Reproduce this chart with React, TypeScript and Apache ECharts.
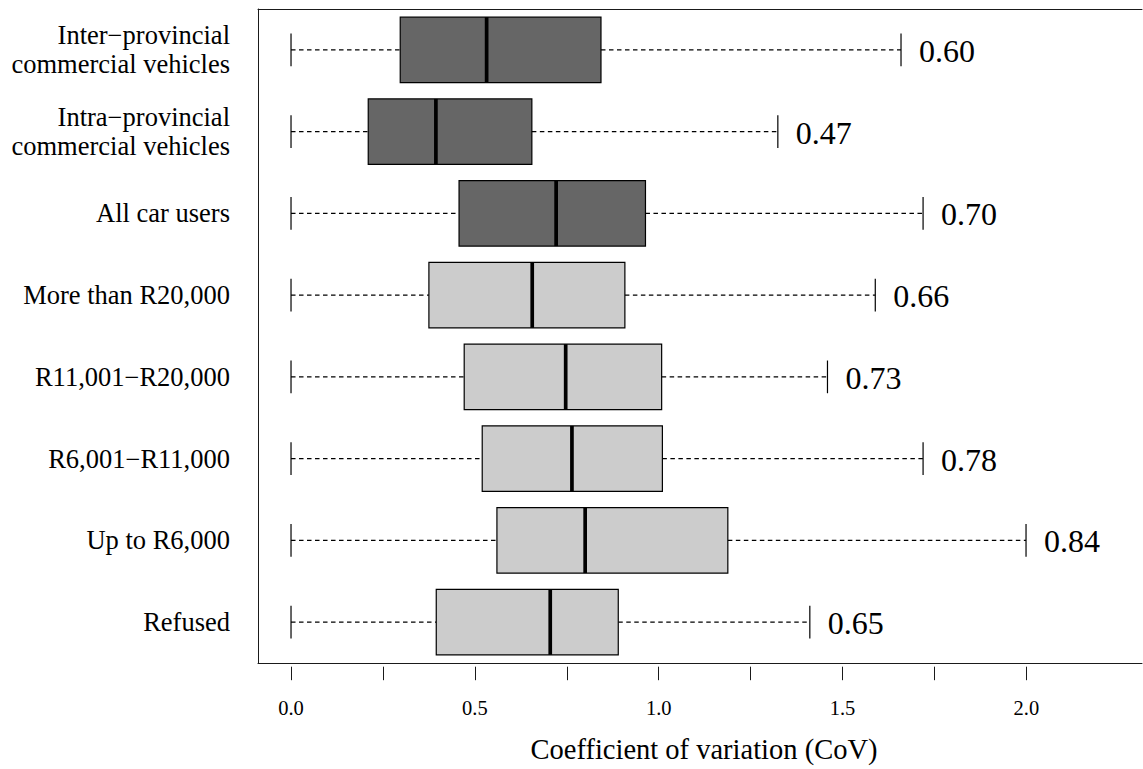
import React, { useEffect, useRef } from "react";
import * as echarts from "echarts";

const categories = [
  "Inter\u2212provincial\ncommercial vehicles",
  "Intra\u2212provincial\ncommercial vehicles",
  "All car users",
  "More than R20,000",
  "R11,001\u2212R20,000",
  "R6,001\u2212R11,000",
  "Up to R6,000",
  "Refused",
];
const whiskerLow = [0, 0, 0, 0, 0, 0, 0, 0];
const lowerQuartile = [0.297, 0.21, 0.457, 0.375, 0.471, 0.52, 0.56, 0.395];
const median = [0.532, 0.394, 0.721, 0.656, 0.747, 0.764, 0.8, 0.705];
const upperQuartile = [0.843, 0.655, 0.964, 0.908, 1.008, 1.01, 1.188, 0.89];
const whiskerHigh = [1.659, 1.324, 1.719, 1.589, 1.459, 1.719, 1.999, 1.411];
const cvLabels = ["0.60", "0.47", "0.70", "0.66", "0.73", "0.78", "0.84", "0.65"];
const groupOf = ["vehicle", "vehicle", "vehicle", "income", "income", "income", "income", "income"];
const tickMin = 0;
const tickMax = 2;
const tickStep = 0.25;

const FONT = "'Liberation Serif', 'Times New Roman', serif";
const fillFor: Record<string, string> = { vehicle: "#666666", income: "#cccccc" };

export default function App() {
  const ref = useRef<HTMLDivElement>(null);
  useEffect(() => {
    if (!ref.current) return;
    const chart = echarts.init(ref.current, undefined, { renderer: "svg" });

    const xMin = -0.0898;
    const pxPerUnit = 367.69;
    const gLeft = 258;
    const gTop = 9;
    const gWidth = 884;
    const gHeight = 657.7;
    const xMax = xMin + gWidth / pxPerUnit;
    const tLeft = gLeft + (tickMin - xMin) * pxPerUnit;
    const tWidth = (tickMax - tickMin) * pxPerUnit;
    const frame = { show: true, onZero: false, lineStyle: { color: "#1a1a1a", width: 1 } };

    const data = categories.map((_, i) => [
      i,
      whiskerLow[i],
      lowerQuartile[i],
      median[i],
      upperQuartile[i],
      whiskerHigh[i],
    ]);

    const renderItem = (params: any, api: any) => {
      const idx = params.dataIndex;
      const cat = api.value(0);
      const pLo = api.coord([api.value(1), cat]);
      const pQ1 = api.coord([api.value(2), cat]);
      const pMed = api.coord([api.value(3), cat]);
      const pQ3 = api.coord([api.value(4), cat]);
      const pHi = api.coord([api.value(5), cat]);
      const band = api.size([0, 1])[1];
      const boxH = band * 0.8;
      const capH = band * 0.4;
      const y = pMed[1];
      const dashStyle = { stroke: "#000", lineWidth: 1.1, lineDash: [4.5, 3.5] };
      const solid = { stroke: "#000", lineWidth: 1.2 };
      return {
        type: "group",
        children: [
          { type: "line", shape: { x1: pLo[0], y1: y, x2: pQ1[0], y2: y }, style: dashStyle },
          { type: "line", shape: { x1: pQ3[0], y1: y, x2: pHi[0], y2: y }, style: dashStyle },
          { type: "line", shape: { x1: pLo[0], y1: y - capH / 2, x2: pLo[0], y2: y + capH / 2 }, style: solid },
          { type: "line", shape: { x1: pHi[0], y1: y - capH / 2, x2: pHi[0], y2: y + capH / 2 }, style: solid },
          {
            type: "rect",
            shape: { x: pQ1[0], y: y - boxH / 2, width: pQ3[0] - pQ1[0], height: boxH },
            style: { fill: fillFor[groupOf[idx]], stroke: "#000", lineWidth: 1.2 },
          },
          {
            type: "line",
            shape: { x1: pMed[0], y1: y - boxH / 2, x2: pMed[0], y2: y + boxH / 2 },
            style: { stroke: "#000", lineWidth: 3.7 },
          },
          {
            type: "text",
            x: pHi[0] + 18,
            y: y + 1,
            style: {
              text: cvLabels[idx],
              fill: "#000",
              fontSize: 32,
              fontFamily: FONT,
              align: "left",
              verticalAlign: "middle",
              textAlign: "left",
              textVerticalAlign: "middle",
            },
          },
        ],
      };
    };

    chart.setOption({
      animation: false,
      backgroundColor: "#ffffff",
      grid: [
        { left: gLeft, top: gTop, width: gWidth, height: gHeight, show: false },
        { left: tLeft, top: gTop, width: tWidth, height: gHeight, show: false },
      ],
      xAxis: [
        {
          gridIndex: 0,
          type: "value",
          position: "bottom",
          min: xMin,
          max: xMax,
          axisLine: frame,
          axisTick: { show: false },
          axisLabel: { show: false },
          splitLine: { show: false },
          name: "Coefficient of variation (CoV)",
          nameLocation: "middle",
          nameGap: 72,
          nameTextStyle: { fontFamily: FONT, fontSize: 28.5, color: "#000", padding: [0, 0, 0, 8] },
        },
        {
          gridIndex: 0,
          type: "value",
          position: "top",
          min: xMin,
          max: xMax,
          axisLine: frame,
          axisTick: { show: false },
          axisLabel: { show: false },
          splitLine: { show: false },
        },
        {
          gridIndex: 1,
          type: "value",
          min: tickMin,
          max: tickMax,
          interval: tickStep,
          axisLine: { show: false },
          axisTick: { show: true, length: 13.5, lineStyle: { color: "#1a1a1a", width: 1 } },
          axisLabel: {
            show: true,
            margin: 31,
            fontFamily: FONT,
            fontSize: 20.5,
            color: "#000",
            showMinLabel: true,
            showMaxLabel: true,
            formatter: (v: number) =>
              Math.abs(v * 2 - Math.round(v * 2)) < 1e-9 ? v.toFixed(1) : "",
          },
          splitLine: { show: false },
        },
      ],
      yAxis: [
        {
          gridIndex: 0,
          type: "category",
          position: "left",
          data: categories,
          inverse: true,
          boundaryGap: true,
          axisLine: frame,
          axisTick: { show: false },
          axisLabel: {
            margin: 28,
            fontFamily: FONT,
            fontSize: 26.5,
            lineHeight: 29,
            color: "#000",
            align: "right",
            interval: 0,
          },
          splitLine: { show: false },
        },
        {
          gridIndex: 1,
          type: "value",
          show: false,
        },
      ],
      series: [
        {
          type: "custom",
          xAxisIndex: 0,
          yAxisIndex: 0,
          renderItem,
          data,
          encode: { x: [1, 2, 3, 4, 5], y: 0 },
          clip: false,
        },
      ],
    });
    return () => chart.dispose();
  }, []);

  return (
    <div
      ref={ref}
      style={{ position: "fixed", left: 0, top: 0, width: 1143, height: 769, background: "#fff" }}
    />
  );
}
